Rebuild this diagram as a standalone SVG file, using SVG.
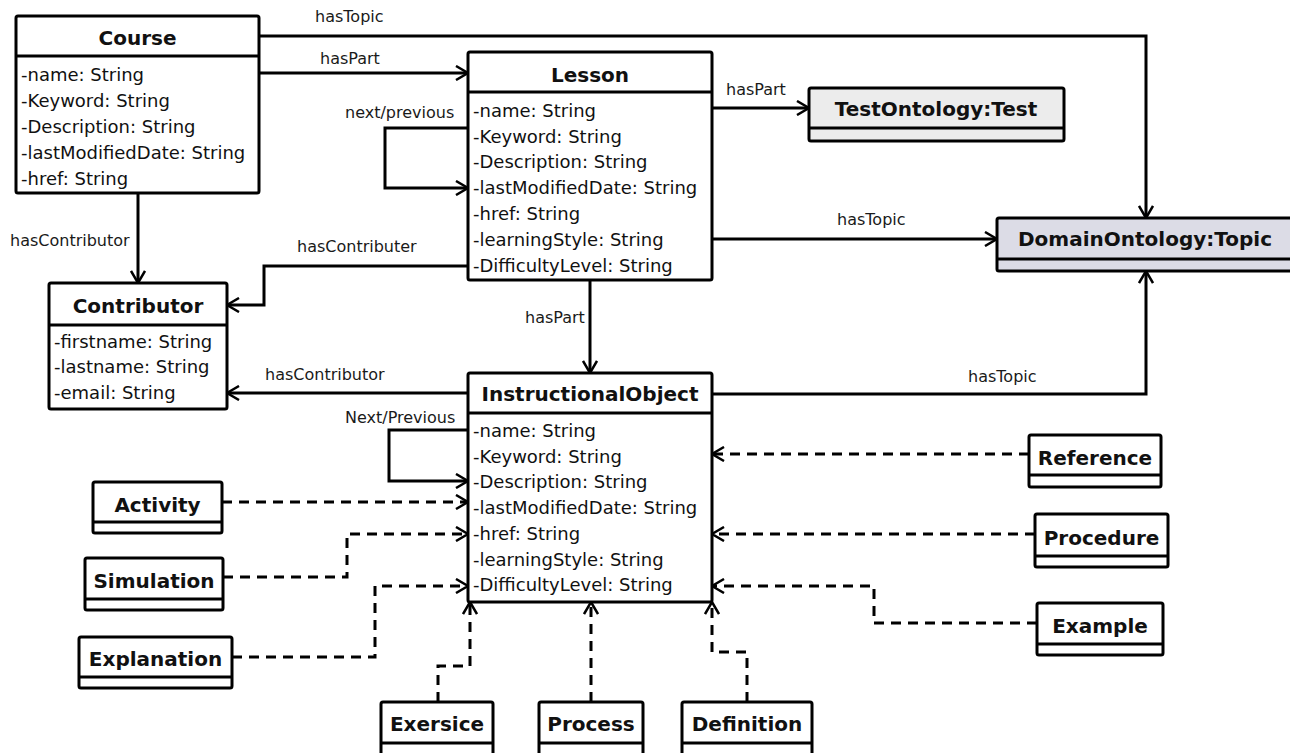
<svg xmlns="http://www.w3.org/2000/svg" width="1290" height="753" viewBox="0 0 1290 753">
  <style>
    .box { fill: #ffffff; stroke: #000; stroke-width: 3; }
    .gray { fill: #ececec; }
    .lav { fill: #dcdce6; }
    .div { stroke: #000; stroke-width: 3; }
    .title { font-family: "DejaVu Sans", "Liberation Sans", sans-serif; font-weight: bold; font-size: 20px; fill: #111; text-anchor: middle; }
    .attr { font-family: "DejaVu Sans", "Liberation Sans", sans-serif; font-size: 18px; fill: #111; }
    .lbl { font-family: "DejaVu Sans", "Liberation Sans", sans-serif; font-size: 16px; fill: #1a1a1a; }
    .conn { fill: none; stroke: #000; stroke-width: 3; marker-end: url(#open); }
    .dash { stroke-dasharray: 10 7; }
  </style>
  <defs>
    <marker id="open" markerUnits="userSpaceOnUse" viewBox="0 0 16 16" markerWidth="16" markerHeight="16" refX="14" refY="8" orient="auto">
      <path d="M2,1 L14,8 L2,15" fill="none" stroke="#000" stroke-width="2.5"/>
    </marker>
  </defs>
  <rect width="1290" height="753" fill="#ffffff"/>

  <!-- connectors -->
  <g id="connectors">
    <path class="conn" d="M259,36 H1146 V218"/>
    <path class="conn" d="M259,73 H468"/>
    <path class="conn" d="M468,128 H385 V188 H468"/>
    <path class="conn" d="M712,108 H809"/>
    <path class="conn" d="M712,239 H997"/>
    <path class="conn" d="M138,193 V283"/>
    <path class="conn" d="M468,266 H264 V305 H227"/>
    <path class="conn" d="M590,280 V373"/>
    <path class="conn" d="M468,393 H227"/>
    <path class="conn" d="M712,394 H1146 V271"/>
    <path class="conn" d="M468,430 H389 V481 H468"/>

    <path class="conn dash" d="M222,502 H468"/>
    <path class="conn dash" d="M223,577 H347 V534 H468"/>
    <path class="conn dash" d="M232,657 H375 V586 H468"/>
    <path class="conn dash" d="M1029,454 H712"/>
    <path class="conn dash" d="M1035,534 H712"/>
    <path class="conn dash" d="M1037,623 H874 V586 H712"/>
    <path class="conn dash" d="M438,702 V666 H470 V602"/>
    <path class="conn dash" d="M591,702 V602"/>
    <path class="conn dash" d="M747,702 V652 H712 V602"/>

    <text class="lbl" x="315" y="22">hasTopic</text>
    <text class="lbl" x="320" y="64">hasPart</text>
    <text class="lbl" x="345" y="118">next/previous</text>
    <text class="lbl" x="726" y="95">hasPart</text>
    <text class="lbl" x="837" y="225">hasTopic</text>
    <text class="lbl" x="10" y="246">hasContributor</text>
    <text class="lbl" x="297" y="252">hasContributer</text>
    <text class="lbl" x="525" y="323">hasPart</text>
    <text class="lbl" x="265" y="380">hasContributor</text>
    <text class="lbl" x="968" y="382">hasTopic</text>
    <text class="lbl" x="345" y="423">Next/Previous</text>
  </g>

  <!-- classes with attributes -->
  <g id="course">
    <rect class="box" x="16" y="16" width="243" height="177" rx="2"/>
    <line class="div" x1="16" y1="56" x2="259" y2="56"/>
    <text class="title" x="137.5" y="45">Course</text>
    <text class="attr" x="21" y="81">-name: String</text>
    <text class="attr" x="21" y="107">-Keyword: String</text>
    <text class="attr" x="21" y="133">-Description: String</text>
    <text class="attr" x="21" y="159">-lastModifiedDate: String</text>
    <text class="attr" x="21" y="185">-href: String</text>
  </g>

  <g id="lesson">
    <rect class="box" x="468" y="52" width="244" height="228" rx="2"/>
    <line class="div" x1="468" y1="92" x2="712" y2="92"/>
    <text class="title" x="590" y="82">Lesson</text>
    <text class="attr" x="473" y="117">-name: String</text>
    <text class="attr" x="473" y="143">-Keyword: String</text>
    <text class="attr" x="473" y="168">-Description: String</text>
    <text class="attr" x="473" y="194">-lastModifiedDate: String</text>
    <text class="attr" x="473" y="220">-href: String</text>
    <text class="attr" x="473" y="246">-learningStyle: String</text>
    <text class="attr" x="473" y="272">-DifficultyLevel: String</text>
  </g>

  <g id="contributor">
    <rect class="box" x="49" y="283" width="178" height="126" rx="2"/>
    <line class="div" x1="49" y1="325" x2="227" y2="325"/>
    <text class="title" x="138" y="313">Contributor</text>
    <text class="attr" x="54" y="348">-firstname: String</text>
    <text class="attr" x="54" y="373">-lastname: String</text>
    <text class="attr" x="54" y="399">-email: String</text>
  </g>

  <g id="instructional-object">
    <rect class="box" x="468" y="373" width="244" height="229" rx="2"/>
    <line class="div" x1="468" y1="413" x2="712" y2="413"/>
    <text class="title" x="590" y="401">InstructionalObject</text>
    <text class="attr" x="473" y="437">-name: String</text>
    <text class="attr" x="473" y="463">-Keyword: String</text>
    <text class="attr" x="473" y="488">-Description: String</text>
    <text class="attr" x="473" y="514">-lastModifiedDate: String</text>
    <text class="attr" x="473" y="540">-href: String</text>
    <text class="attr" x="473" y="566">-learningStyle: String</text>
    <text class="attr" x="473" y="591">-DifficultyLevel: String</text>
  </g>

  <!-- external ontology classes -->
  <g id="test">
    <rect class="box gray" x="809" y="88" width="255" height="53" rx="2"/>
    <line class="div" x1="809" y1="128" x2="1064" y2="128"/>
    <text class="title" x="936" y="116">TestOntology:Test</text>
  </g>

  <g id="topic">
    <rect class="box lav" x="997" y="218" width="310" height="53" rx="2"/>
    <line class="div" x1="997" y1="259" x2="1307" y2="259"/>
    <text class="title" x="1018" y="246" style="text-anchor:start">DomainOntology:Topic</text>
  </g>

  <!-- subclasses of InstructionalObject -->
  <g id="activity">
    <rect class="box" x="93" y="482" width="129" height="51" rx="2"/>
    <line class="div" x1="93" y1="522" x2="222" y2="522"/>
    <text class="title" x="157.5" y="512">Activity</text>
  </g>
  <g id="simulation">
    <rect class="box" x="85" y="558" width="138" height="52" rx="2"/>
    <line class="div" x1="85" y1="599" x2="223" y2="599"/>
    <text class="title" x="154" y="588">Simulation</text>
  </g>
  <g id="explanation">
    <rect class="box" x="79" y="637" width="153" height="51" rx="2"/>
    <line class="div" x1="79" y1="677" x2="232" y2="677"/>
    <text class="title" x="155.5" y="666">Explanation</text>
  </g>
  <g id="reference">
    <rect class="box" x="1029" y="435" width="132" height="52" rx="2"/>
    <line class="div" x1="1029" y1="475" x2="1161" y2="475"/>
    <text class="title" x="1095" y="465">Reference</text>
  </g>
  <g id="procedure">
    <rect class="box" x="1035" y="514" width="133" height="53" rx="2"/>
    <line class="div" x1="1035" y1="556" x2="1168" y2="556"/>
    <text class="title" x="1101.5" y="545">Procedure</text>
  </g>
  <g id="example">
    <rect class="box" x="1037" y="603" width="126" height="52" rx="2"/>
    <line class="div" x1="1037" y1="644" x2="1163" y2="644"/>
    <text class="title" x="1100" y="633">Example</text>
  </g>
  <g id="exersice">
    <rect class="box" x="381" y="702" width="112" height="60" rx="2"/>
    <line class="div" x1="381" y1="743" x2="493" y2="743"/>
    <text class="title" x="437" y="731">Exersice</text>
  </g>
  <g id="process">
    <rect class="box" x="539" y="702" width="104" height="60" rx="2"/>
    <line class="div" x1="539" y1="743" x2="643" y2="743"/>
    <text class="title" x="591" y="731">Process</text>
  </g>
  <g id="definition">
    <rect class="box" x="682" y="702" width="130" height="60" rx="2"/>
    <line class="div" x1="682" y1="743" x2="812" y2="743"/>
    <text class="title" x="747" y="731">Definition</text>
  </g>
</svg>
